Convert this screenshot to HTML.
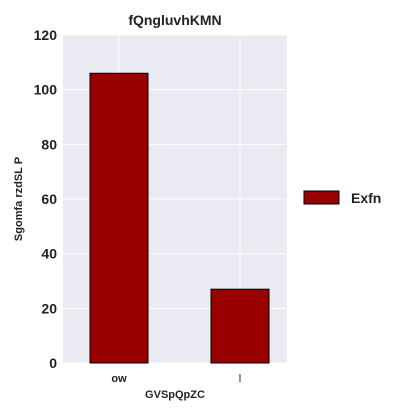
<!DOCTYPE html>
<html><head><meta charset="utf-8"><style>
body{margin:0;background:#fff;font-family:"Liberation Sans",sans-serif}
</style></head><body>
<svg id="c" width="414" height="414" xmlns="http://www.w3.org/2000/svg"></svg>
<script>
const categories=["ow","l"];
const values=[106,27];
const yTicks=[0,20,40,60,80,100,120];
const seriesName="Exfn";
const svg=document.getElementById('c');
const NS="http://www.w3.org/2000/svg";
const L=63,R=287,T=35,B=363,yMax=120;
const y=v=>B-(v/yMax)*(B-T);
const step=121;
const xc=i=>L+56+step*i;
function mk(t,a,txt){const e=document.createElementNS(NS,t);for(const k in a)e.setAttribute(k,a[k]);if(txt!=null)e.textContent=txt;svg.appendChild(e);return e;}
let e=mk('rect',{x:L,y:T,width:R-L,height:B-T,fill:'#eaeaf2'});


yTicks.forEach(t=>{
 let g=mk('line',{x1:L,x2:R,y1:y(t),y2:y(t),stroke:'#fff','stroke-width':1});
 
 
 let l=mk('text',{x:L-6,y:y(t)+5,'text-anchor':'end','font-size':14,'font-weight':'bold',fill:'#222'},t);
 
 
});
categories.forEach((c,i)=>{
 let g=mk('line',{x1:xc(i),x2:xc(i),y1:T,y2:B,stroke:'#fff','stroke-width':1});
 
 
});
categories.forEach((c,i)=>{
 let b=mk('rect',{x:xc(i)-29,y:y(values[i]),width:58,height:B-y(values[i]),fill:'#990000',stroke:'#000','stroke-width':1});
 
 
 let l=mk('text',{x:xc(i),y:382,'text-anchor':'middle','font-size':11,'font-weight':i==0?'bold':'normal',fill:'#222'},c);
 
 
});
e=mk('text',{x:175,y:25,'text-anchor':'middle','font-size':14,'font-weight':'bold',fill:'#222'},'fQngluvhKMN');


e=mk('text',{x:175,y:398,'text-anchor':'middle','font-size':11,'font-weight':'bold',fill:'#222'},'GVSpQpZC');


e=mk('text',{x:0,y:0,transform:'translate(22,199) rotate(-90)','text-anchor':'middle','font-size':11,'font-weight':'bold',fill:'#222'},'Sgomfa rzdSL P');


e=mk('rect',{x:304,y:191,width:35,height:13,fill:'#990000',stroke:'#000','stroke-width':1});


e=mk('text',{x:351,y:203,'font-size':14,'font-weight':'bold',fill:'#222'},seriesName);


</script>
</body></html>
